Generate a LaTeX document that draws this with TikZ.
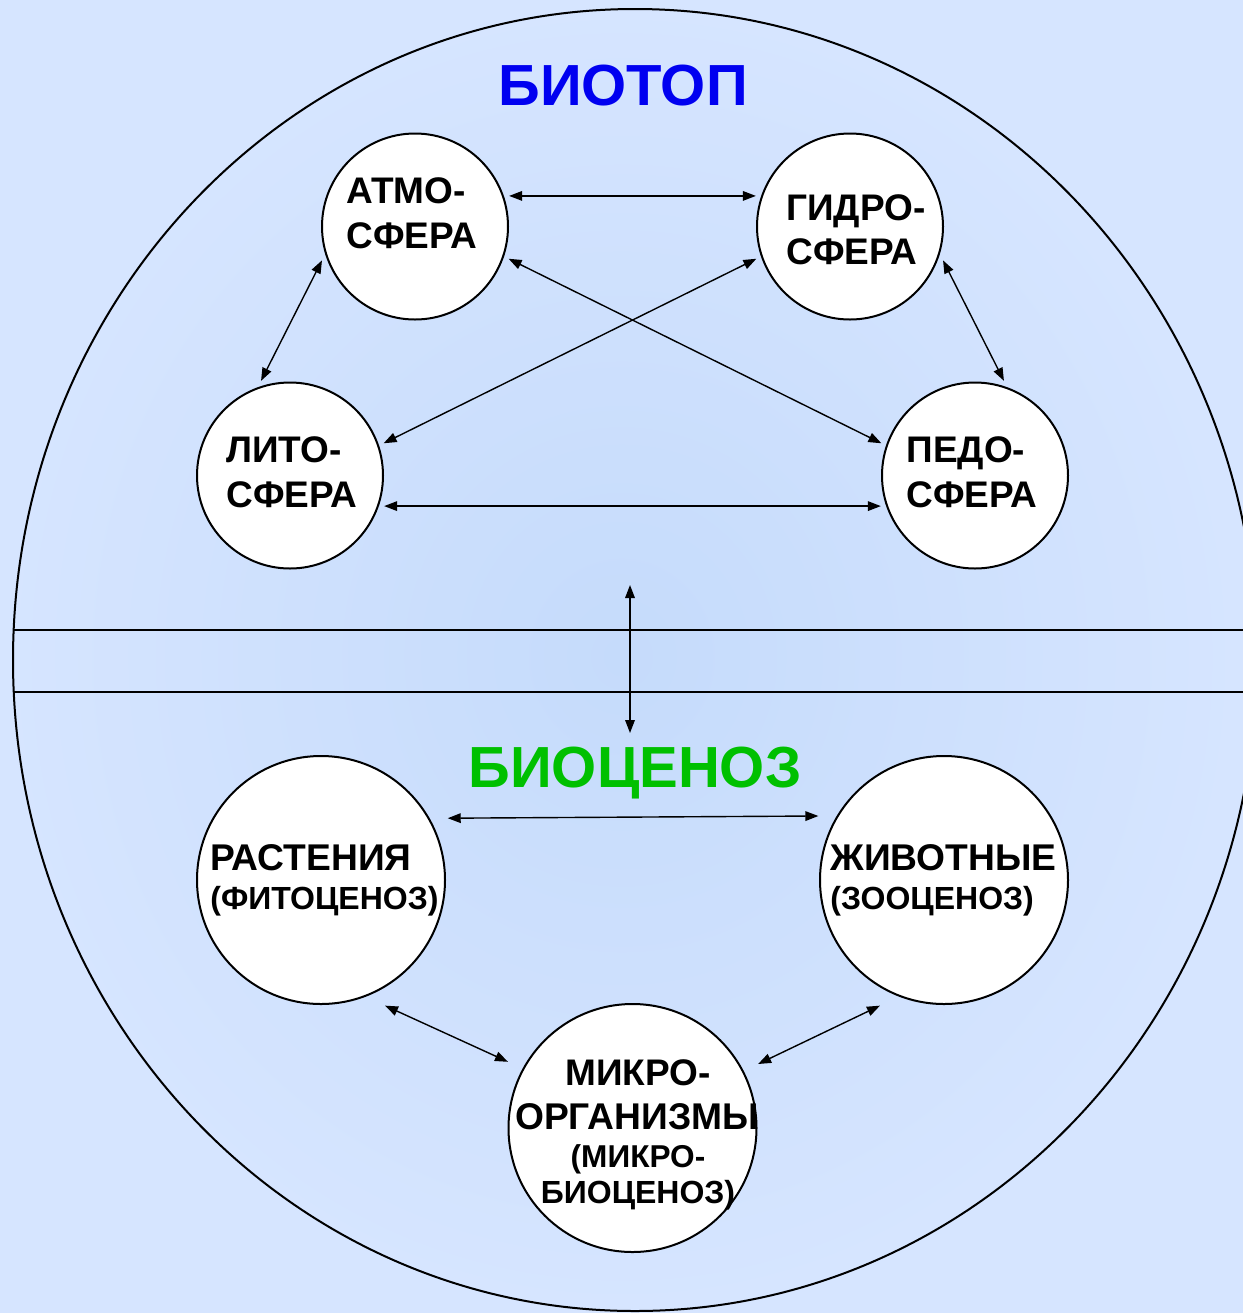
\documentclass[tikz,border=0pt]{standalone}
\usepackage{fontspec}
\setmainfont{Liberation Sans}
\usetikzlibrary{arrows.meta}
\definecolor{bgin}{RGB}{197,219,251}
\definecolor{bgout}{RGB}{214,229,255}
\definecolor{titleblue}{RGB}{0,0,240}
\definecolor{titlegreen}{RGB}{0,192,0}
\tikzset{
  sphere/.style={circle, draw=black, fill=white, line width=1pt, minimum size=93pt, inner sep=0pt, outer sep=3pt},
  group/.style={circle, draw=black, fill=white, line width=1pt, minimum size=124pt, inner sep=0pt, outer sep=8.5pt},
  lnk/.style={{Triangle[length=6.5pt,width=4.8pt]}-{Triangle[length=6.5pt,width=4.8pt]}, line width=0.7pt},
  big/.style={font=\bfseries\fontsize{18.5}{20}\selectfont, inner sep=0pt, anchor=base west},
  mid/.style={font=\bfseries\fontsize{18.6}{20}\selectfont, inner sep=0pt, anchor=base west},
  sml/.style={font=\bfseries\fontsize{16}{18}\selectfont, inner sep=0pt, anchor=base west},
  title/.style={font=\bfseries\fontsize{29}{30}\selectfont, inner sep=0pt, anchor=base},
  frame/.style={line width=1pt, draw=black}
}
\begin{document}
\begin{tikzpicture}[x=0.5pt, y=-0.5pt]
\useasboundingbox (0,0) rectangle (1243,1313);
\clip (0,0) rectangle (1243,1313);
\shade[inner color=bgin, outer color=bgout] (0,0) rectangle (1243,1313);

% outer ellipse and band
\draw[frame] (635,660) ellipse [x radius=311pt, y radius=325.5pt];
\coordinate (bandAl) at (13,630);
\coordinate (bandAr) at (1243,630);
\coordinate (bandBl) at (13,692);
\coordinate (bandBr) at (1243,692);
\draw[frame] (bandAl) -- (bandAr);
\draw[frame] (bandBl) -- (bandBr);

% titles
\node[title, text=titleblue] (biotop) at (623,105) {БИОТОП};
\node[title, text=titlegreen] (biocen) at (635,787) {БИОЦЕНОЗ};

% spheres
\node[sphere] (atmo) at (415,226.5) {};
\node[sphere] (gidro) at (850,226.5) {};
\node[sphere] (lito) at (290,475.5) {};
\node[sphere] (pedo) at (975,475.5) {};

\node[big] (atmoA) at (346,203) {АТМО-};
\node[big] (atmoB) at (346,248) {СФЕРА};
\node[big] (gidroA) at (786,220) {ГИДРО-};
\node[big] (gidroB) at (786,264) {СФЕРА};
\node[big] (litoA) at (226,462) {ЛИТО-};
\node[big] (litoB) at (226,507) {СФЕРА};
\node[big] (pedoA) at (906,462) {ПЕДО-};
\node[big] (pedoB) at (906,507) {СФЕРА};

% biocenosis groups
\node[group] (rast) at (321,880) {};
\node[group] (zhiv) at (944,880) {};
\node[group] (mikro) at (632.5,1128) {};

\node[mid] (rastA) at (210,870) {РАСТЕНИЯ};
\node[sml] (rastB) at (210,909) {(ФИТОЦЕНОЗ)};
\node[mid] (zhivA) at (830,870) {ЖИВОТНЫЕ};
\node[sml] (zhivB) at (830,909) {(ЗООЦЕНОЗ)};
\node[big, anchor=base] (mikA) at (638,1085) {МИКРО-};
\node[mid, anchor=base] (mikB) at (637,1129) {ОРГАНИЗМЫ};
\node[sml, font=\bfseries\fontsize{15.8}{18}\selectfont, anchor=base] (mikC) at (638,1167) {(МИКРО-};
\node[sml, anchor=base] (mikD) at (638,1203) {БИОЦЕНОЗ)};

% biotope links
\draw[lnk] (atmo.18) -- (gidro.162);
\draw[lnk] (atmo.200) -- (lito.107);
\draw[lnk] (gidro.340) -- (pedo.73);
\draw[lnk] (atmo.341) -- (pedo.161);
\draw[lnk] (gidro.199) -- (lito.19);
\draw[lnk] (lito.342) -- (pedo.198);

% biotope - biocenosis link
\coordinate (vtop) at (630,585);
\coordinate (vbot) at (630,733);
\draw[lnk] (vtop) -- (vbot);

% biocenosis links
\draw[lnk] (rast.26.6) -- (zhiv.153.4);
\draw[lnk] (rast.297) -- (mikro.152.5);
\draw[lnk] (zhiv.243) -- (mikro.27.5);
\end{tikzpicture}
\end{document}
